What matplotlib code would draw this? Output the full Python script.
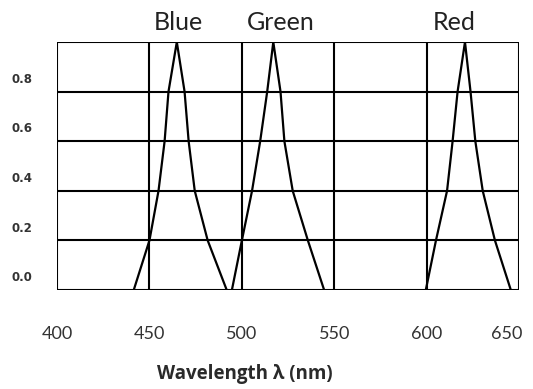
import matplotlib.pyplot as plt
from matplotlib.transforms import ScaledTranslation

# response levels shared by every curve (rise then fall)
levels = [0.0, 0.2, 0.4, 0.6, 0.8, 1.0, 0.8, 0.6, 0.4, 0.2, 0.0]

blue_nm = [441.5, 450.0, 454.9, 458.2, 460.3, 464.8, 469.0, 471.2, 474.5, 481.5, 491.8]
green_nm = [494.6, 500.0, 505.5, 509.9, 513.7, 517.0, 520.9, 523.0, 527.5, 535.7, 544.5]
red_nm = [599.5, 605.0, 611.0, 614.0, 616.7, 620.7, 623.7, 626.3, 630.3, 636.9, 645.5]

curve_names = ["Blue", "Green", "Red"]
label_x = [465.7, 520.9, 614.6]

x_ticks = [400, 450, 500, 550, 600, 650]
y_ticks = [0.0, 0.2, 0.4, 0.6, 0.8]
y_grid = [0.0, 0.2, 0.4, 0.6, 0.8, 1.0]

fig = plt.figure(figsize=(5.33, 3.89), dpi=100)
ax = fig.add_axes([0.107, 0.2545, 0.867, 0.6375])

for xs in (blue_nm, green_nm, red_nm):
    ax.plot(xs, levels, color="black", linewidth=1.6, solid_joinstyle="miter")

ax.set_xlim(400, 650)
ax.set_ylim(0, 1.0)

for x in x_ticks:
    ax.axvline(x, color="black", linewidth=1.5, zorder=0)
for y in y_grid:
    ax.axhline(y, color="black", linewidth=1.5, zorder=0)

for s in ax.spines.values():
    s.set_visible(False)

ax.set_xticks(x_ticks)
ax.set_xticklabels([str(v) for v in x_ticks], fontfamily="Lato", fontsize=13,
                   color="#333333")
ax.set_yticks(y_ticks)
ax.set_yticklabels([f"{v:.1f}" for v in y_ticks], fontfamily="DejaVu Sans",
                   fontweight="bold", fontsize=8.5, color="#333333")
ax.tick_params(axis="both", length=0)
ax.tick_params(axis="x", pad=26)
ax.tick_params(axis="y", pad=18)

# y labels sit a little above their grid line
offset = ScaledTranslation(0, 10 / 72, fig.dpi_scale_trans)
for lab in ax.get_yticklabels():
    lab.set_transform(lab.get_transform() + offset)

# last x label sits left of its line, inside the figure
xlabs = ax.get_xticklabels()
xlabs[-1].set_transform(xlabs[-1].get_transform()
                        + ScaledTranslation(-9 / 72, 0, fig.dpi_scale_trans))

for name, lx in zip(curve_names, label_x):
    ax.text(lx, 1.08, name, ha="center", va="center", fontfamily="Lato",
            fontsize=18, color="#222222", clip_on=False)

fig.text(245 / 533, 1 - 374 / 389, "Wavelength \u03bb (nm)", ha="center", va="center",
         fontfamily="Open Sans", fontweight="bold", fontsize=13.5, color="#2a2a2a")

fig.savefig("out.png", dpi=100)
